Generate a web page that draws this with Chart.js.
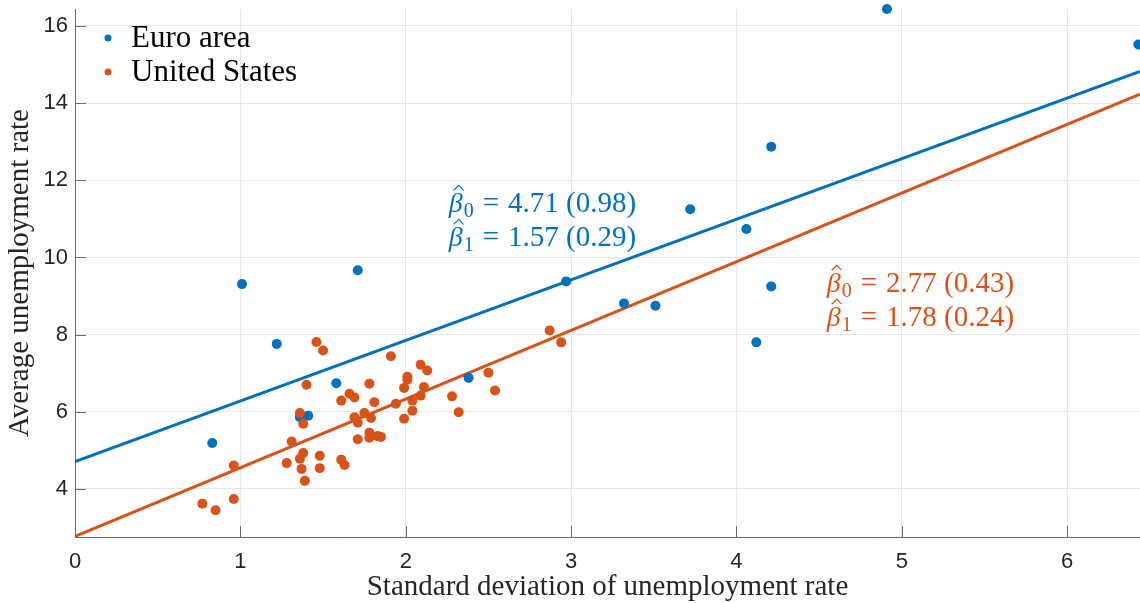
<!DOCTYPE html>
<html>
<head>
<meta charset="utf-8">
<script src="https://cdn.jsdelivr.net/npm/chart.js@4.4.1/dist/chart.umd.min.js"></script>
<style>
  html, body { margin: 0; padding: 0; background: #fff; }
  #wrap { width: 1140px; height: 603px; }
</style>
</head>
<body>
<div id="wrap"><canvas id="chart" width="1140" height="603"></canvas></div>
<script>
// --- Data ---
const euroSd = [0.83, 1.01, 1.22, 1.36, 1.41, 1.58, 1.71, 2.38, 2.97, 3.32, 3.51, 3.72, 4.06, 4.12, 4.21, 4.21, 4.91, 6.43];
const euroRate = [5.19, 9.31, 7.76, 5.86, 5.90, 6.74, 9.67, 6.88, 9.38, 8.81, 8.75, 11.25, 10.74, 7.80, 9.25, 12.87, 16.44, 15.52];

const usSd = [0.77, 0.85, 0.96, 0.96, 1.28, 1.31, 1.36, 1.36, 1.37, 1.38, 1.38, 1.39, 1.40, 1.46, 1.48, 1.48, 1.50,
  1.61, 1.61, 1.63, 1.66, 1.69, 1.69, 1.71, 1.71, 1.75, 1.78, 1.78, 1.78, 1.79, 1.81, 1.83, 1.85,
  1.91, 1.94, 1.99, 1.99, 2.01, 2.01, 2.04, 2.04, 2.09, 2.09, 2.11, 2.13, 2.28, 2.32, 2.50, 2.54, 2.87, 2.94];
const usRate = [3.62, 3.45, 3.74, 4.61, 4.67, 5.23, 5.97, 4.78, 4.52, 4.93, 5.69, 4.21, 6.70, 7.81, 4.86, 4.54, 7.59,
  6.29, 4.76, 4.62, 6.47, 5.86, 6.37, 5.72, 5.29, 5.97, 5.33, 6.73, 5.46, 5.84, 6.25, 5.37, 5.35,
  7.44, 6.21, 6.62, 5.82, 6.91, 6.83, 6.03, 6.29, 7.22, 6.42, 6.64, 7.07, 6.40, 5.99, 7.01, 6.55, 8.11, 7.80];

// regression coefficients [beta0, beta1] and standard errors
const euroBeta = [4.71, 1.57];
const euroSe = [0.98, 0.29];
const usBeta = [2.77, 1.78];
const usSe = [0.43, 0.24];

const seriesNames = ['Euro area', 'United States'];
const xTicks = [0, 1, 2, 3, 4, 5, 6];
const yTicks = [4, 6, 8, 10, 12, 14, 16];
const xLimits = [0, 6.44];
const yLimits = [2.755, 16.44];

// --- Styles ---
const BLUE = '#0072BD';
const ORANGE = '#D95319';
const AXIS = '#6e6e6e';
const TEXT = '#262626';
const SERIF = '"Liberation Serif", "Times New Roman", serif';
const SANS = '"Liberation Sans", Arial, Helvetica, sans-serif';

// where the coefficient labels sit, in data units
const coefAnchors = [
  { x: 2.26, y: 11.17, color: BLUE, beta: euroBeta, se: euroSe },
  { x: 4.546, y: 9.10, color: ORANGE, beta: usBeta, se: usSe }
];

const toPoints = (xs, ys) => xs.map((x, i) => ({ x: x, y: ys[i] }));
const fitLine = (beta) => xLimits.map(x => ({ x: x, y: beta[0] + beta[1] * x }));

// no extra room for end labels, the axes fill the canvas
function fixBox(s, size) {
  if (s.isHorizontal()) s.height = size; else s.width = size;
  s.paddingTop = 0;
  s.paddingBottom = 0;
  s.paddingLeft = 0;
  s.paddingRight = 0;
}

// inward tick marks, MATLAB style
const innerTicks = {
  id: 'innerTicks',
  afterDatasetsDraw(chart) {
    const { ctx, chartArea, scales } = chart;
    ctx.save();
    ctx.strokeStyle = AXIS;
    ctx.lineWidth = 1;
    ctx.beginPath();
    xTicks.forEach(v => {
      const px = Math.round(scales.x.getPixelForValue(v)) + 0.5;
      ctx.moveTo(px, chartArea.bottom);
      ctx.lineTo(px, chartArea.bottom - 11);
    });
    yTicks.forEach(v => {
      const py = Math.round(scales.y.getPixelForValue(v)) + 0.5;
      ctx.moveTo(chartArea.left, py);
      ctx.lineTo(chartArea.left + 11, py);
    });
    ctx.stroke();
    ctx.restore();
  }
};

// legend inside the axes, top left
const insideLegend = {
  id: 'insideLegend',
  afterDraw(chart) {
    const { ctx, chartArea } = chart;
    const colors = [BLUE, ORANGE];
    ctx.save();
    ctx.font = '31px ' + SERIF;
    ctx.textBaseline = 'alphabetic';
    ctx.textAlign = 'left';
    seriesNames.forEach((name, i) => {
      const cy = chartArea.top + 29 + i * 34;
      ctx.fillStyle = colors[i];
      ctx.beginPath();
      ctx.arc(chartArea.left + 33, cy, 3.5, 0, Math.PI * 2);
      ctx.fill();
      ctx.fillStyle = '#000';
      ctx.fillText(name, chartArea.left + 56, cy + 9);
    });
    ctx.restore();
  }
};

// beta-hat annotations
function drawCoef(ctx, x, y, idx, beta, se) {
  ctx.font = 'italic 28px ' + SERIF;
  ctx.fillText('\u03B2', x, y);
  const bw = ctx.measureText('\u03B2').width;
  // hat
  ctx.beginPath();
  ctx.moveTo(x + bw * 0.35, y - 22);
  ctx.lineTo(x + bw * 0.72, y - 27);
  ctx.lineTo(x + bw * 1.05, y - 22);
  ctx.stroke();
  ctx.font = '20px ' + SERIF;
  ctx.fillText(String(idx), x + bw + 1, y + 5);
  let cx = x + bw + 1 + ctx.measureText(String(idx)).width + 9;
  ctx.font = '29px ' + SERIF;
  ctx.fillText('=', cx, y);
  cx += ctx.measureText('=').width + 9;
  ctx.fillText(beta.toFixed(2) + ' (' + se.toFixed(2) + ')', cx, y);
}

const coefLabels = {
  id: 'coefLabels',
  afterDraw(chart) {
    const { ctx, scales } = chart;
    ctx.save();
    ctx.textBaseline = 'alphabetic';
    ctx.textAlign = 'left';
    ctx.lineWidth = 1.2;
    coefAnchors.forEach(a => {
      const px = scales.x.getPixelForValue(a.x);
      const py = scales.y.getPixelForValue(a.y);
      ctx.fillStyle = a.color;
      ctx.strokeStyle = a.color;
      drawCoef(ctx, px, py, 0, a.beta[0], a.se[0]);
      drawCoef(ctx, px, py + 34, 1, a.beta[1], a.se[1]);
    });
    ctx.restore();
  }
};

const ctx = document.getElementById('chart').getContext('2d');
new Chart(ctx, {
  type: 'scatter',
  data: {
    datasets: [
      {
        label: seriesNames[0],
        data: toPoints(euroSd, euroRate),
        backgroundColor: BLUE,
        borderWidth: 0,
        pointRadius: 5,
        clip: false,
        order: 1
      },
      {
        label: seriesNames[1],
        data: toPoints(usSd, usRate),
        backgroundColor: ORANGE,
        borderWidth: 0,
        pointRadius: 5,
        clip: false,
        order: 0
      },
      {
        type: 'line',
        data: fitLine(euroBeta),
        borderColor: BLUE,
        borderWidth: 3,
        pointRadius: 0,
        order: 2
      },
      {
        type: 'line',
        data: fitLine(usBeta),
        borderColor: ORANGE,
        borderWidth: 3,
        pointRadius: 0,
        order: 3
      }
    ]
  },
  options: {
    responsive: false,
    animation: false,
    layout: { autoPadding: false, padding: { top: 9, right: 0, bottom: 0, left: 0 } },
    plugins: { legend: { display: false }, tooltip: { enabled: false } },
    scales: {
      x: {
        type: 'linear',
        min: xLimits[0],
        max: xLimits[1],
        afterBuildTicks: (s) => { s.ticks = xTicks.map(v => ({ value: v })); },
        afterFit: (s) => fixBox(s, 66),
        ticks: { font: { family: SANS, size: 22 }, color: TEXT, padding: 12 },
        grid: { color: '#e6e6e6', drawTicks: false },
        border: { color: AXIS, width: 1 },
        title: {
          display: true,
          text: 'Standard deviation of unemployment rate',
          color: TEXT,
          font: { family: SERIF, size: 29, lineHeight: 1 },
          padding: { top: 0, bottom: 1 }
        }
      },
      y: {
        type: 'linear',
        min: yLimits[0],
        max: yLimits[1],
        afterBuildTicks: (s) => { s.ticks = yTicks.map(v => ({ value: v })); },
        afterFit: (s) => fixBox(s, 75),
        ticks: { font: { family: SANS, size: 22 }, color: TEXT, padding: 7 },
        grid: { color: '#e6e6e6', drawTicks: false },
        border: { color: AXIS, width: 1 },
        title: {
          display: true,
          text: 'Average unemployment rate',
          color: TEXT,
          font: { family: SERIF, size: 29, lineHeight: 1 },
          padding: { top: 6, bottom: 0 }
        }
      }
    }
  },
  plugins: [innerTicks, insideLegend, coefLabels]
});
</script>
</body>
</html>
